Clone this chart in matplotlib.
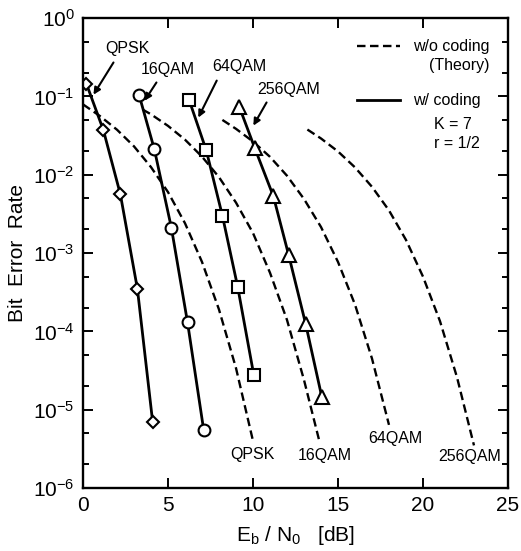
import numpy as np
import matplotlib
matplotlib.use("Agg")
import matplotlib.pyplot as plt
from matplotlib.ticker import LogLocator, NullFormatter, FixedLocator

plt.rcParams['font.family'] = ['Liberation Sans', 'DejaVu Sans']
plt.rcParams['mathtext.fontset'] = 'custom'
plt.rcParams['mathtext.rm'] = 'Liberation Sans'
plt.rcParams['mathtext.it'] = 'Liberation Sans:italic'

# coded results (markers + solid line)
qpsk_x = [0.2, 1.2, 2.2, 3.2, 4.1]
qpsk_y = [0.145, 0.037, 0.0056, 3.5e-4, 6.9e-6]
qam16_x = [3.3, 4.2, 5.2, 6.15, 7.1]
qam16_y = [0.104, 0.021, 0.0021, 1.3e-4, 5.5e-6]
qam64_x = [6.25, 7.25, 8.2, 9.1, 10.05]
qam64_y = [0.089, 0.0205, 0.003, 3.7e-4, 2.75e-5]
qam256_x = [9.2, 10.1, 11.2, 12.1, 13.1, 14.05]
qam256_y = [0.073, 0.022, 0.0053, 9.4e-4, 1.24e-4, 1.45e-5]

# uncoded theory (dashed)
th_qpsk_x = [0, 1, 2, 3, 4, 5, 6, 7, 8, 9, 10]
th_qpsk_y = [0.079, 0.056, 0.0375, 0.023, 0.0125, 0.006, 0.0024, 7.7e-4, 1.9e-4, 3.4e-5, 4.0e-6]
th_16_x = [3.5, 4, 5, 6, 7, 8, 9, 10, 11, 12, 13, 13.9]
th_16_y = [0.068, 0.059, 0.042, 0.028, 0.017, 0.0093, 0.0044, 0.0018, 5.6e-4, 1.4e-4, 2.4e-5, 4.0e-6]
th_64_x = [8.2, 9, 10, 11, 12, 13, 14, 15, 16, 17, 18]
th_64_y = [0.05, 0.0385, 0.0265, 0.0169, 0.0097, 0.0049, 0.00215, 7.7e-4, 2.2e-4, 4.5e-5, 6.4e-6]
th_256_x = [13.2, 14, 15, 16, 17, 18, 19, 20, 21, 22, 23]
th_256_y = [0.0377, 0.029, 0.0198, 0.0124, 0.007, 0.0035, 0.00147, 5.0e-4, 1.35e-4, 2.6e-5, 3.5e-6]

fig = plt.figure(figsize=(5.21, 5.51), dpi=100)
ax = fig.add_axes([0.1593, 0.1143, 0.8157, 0.853])

dash = (0, (3.6, 1.9))
for xs, ys in [(th_qpsk_x, th_qpsk_y), (th_16_x, th_16_y), (th_64_x, th_64_y), (th_256_x, th_256_y)]:
    ax.plot(xs, ys, color='black', lw=1.7, linestyle=dash)

mk = dict(color='black', lw=2.0, markerfacecolor='white', markeredgecolor='black', markeredgewidth=1.5)
ax.plot(qpsk_x, qpsk_y, marker='D', markersize=6.5, **mk)
ax.plot(qam16_x, qam16_y, marker='o', markersize=8.5, **mk)
ax.plot(qam64_x, qam64_y, marker='s', markersize=8.5, **mk)
ax.plot(qam256_x, qam256_y, marker='^', markersize=9.5, **mk)

ax.set_yscale('log')
ax.set_xlim(0, 25)
ax.set_ylim(1e-6, 1)
ax.xaxis.set_major_locator(FixedLocator([0, 5, 10, 15, 20, 25]))
ax.yaxis.set_minor_locator(LogLocator(base=10, subs=(2, 5), numticks=20))
ax.yaxis.set_minor_formatter(NullFormatter())
ax.set_yticks([10.0 ** k for k in range(-6, 1)])
ax.set_yticklabels([r'$\mathregular{10^{%d}}$' % k for k in range(-6, 1)])
ax.tick_params(which='both', direction='in', top=True, right=True, labelsize=15, width=1.4)
ax.tick_params(which='major', length=7, pad=6)
ax.tick_params(which='minor', length=4)
for s in ax.spines.values():
    s.set_linewidth(1.7)

ax.set_ylabel('Bit  Error  Rate', fontsize=15, labelpad=4)
ax.set_xlabel(r'E$_\mathregular{b}$ / N$_\mathregular{0}$   [dB]', fontsize=15, labelpad=6)

# top labels with arrows
lab = dict(fontsize=11.5, ha='center', va='center')
arr = dict(arrowstyle='-|>', color='black', lw=1.5, mutation_scale=10)
ax.text(2.6, 0.414, 'QPSK', **lab)
ax.annotate('', xy=(0.53, 0.098), xytext=(1.88, 0.29), arrowprops=arr)
ax.text(5.0, 0.223, '16QAM', **lab)
ax.annotate('', xy=(3.53, 0.082), xytext=(4.41, 0.161), arrowprops=arr)
ax.text(9.2, 0.237, '64QAM', **lab)
ax.annotate('', xy=(6.71, 0.0498), xytext=(7.94, 0.171), arrowprops=arr)
ax.text(12.1, 0.124, '256QAM', **lab)
ax.annotate('', xy=(9.94, 0.0394), xytext=(10.88, 0.0897), arrowprops=arr)

# bottom labels
ax.text(9.94, 2.7e-6, 'QPSK', **lab)
ax.text(14.24, 2.6e-6, '16QAM', **lab)
ax.text(18.35, 4.3e-6, '64QAM', **lab)
ax.text(22.76, 2.5e-6, '256QAM', **lab)

# legend drawn by hand
ax.plot([16.1, 18.65], [0.439, 0.439], color='black', lw=1.7, linestyle=dash)
ax.text(19.4, 0.439, 'w/o coding', fontsize=11.5, ha='left', va='center')
ax.text(23.94, 0.251, '(Theory)', fontsize=11.5, ha='right', va='center')
ax.plot([16.1, 18.65], [0.0897, 0.0897], color='black', lw=2.0)
ax.text(19.4, 0.0897, 'w/ coding', fontsize=11.5, ha='left', va='center')
ax.text(20.65, 0.0443, 'K = 7', fontsize=11.5, ha='left', va='center')
ax.text(20.65, 0.0253, 'r = 1/2', fontsize=11.5, ha='left', va='center')

fig.savefig('out.png', dpi=100)
